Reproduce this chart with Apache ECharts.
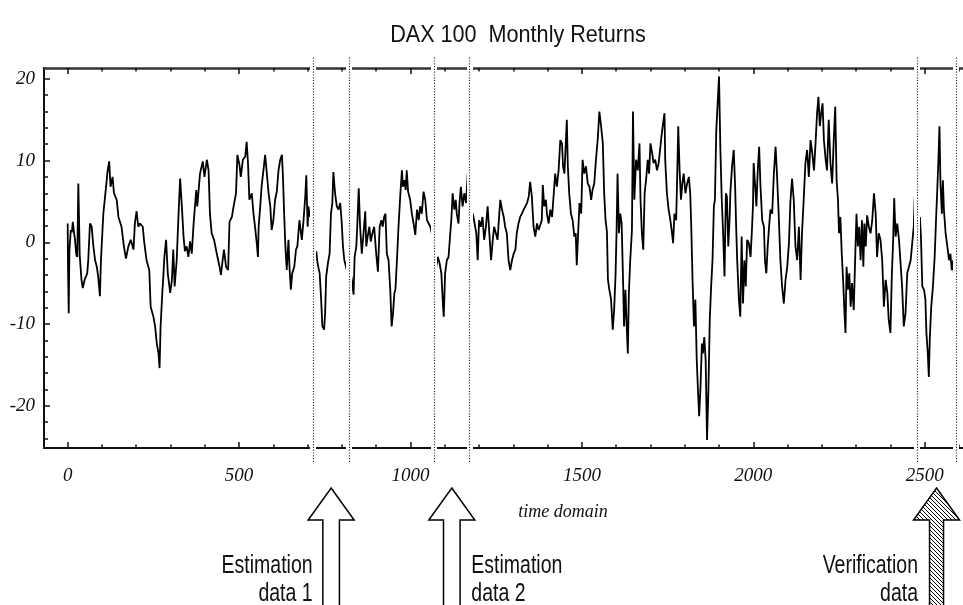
<!DOCTYPE html>
<html><head><meta charset="utf-8">
<script src="https://cdn.jsdelivr.net/npm/echarts@6/dist/echarts.min.js"></script>
<style>html,body{margin:0;padding:0;background:#fff}#c{width:963px;height:605px}</style>
</head><body><div id="c"></div>
<script>
// ---------- data ----------
const titleText = 'DAX 100  Monthly Returns';
const xAxisName = 'time domain';
const xTicks = [0, 500, 1000, 1500, 2000, 2500];
const xMinorTicks = [0,100,200,300,400,500,600,700,800,900,1000,1100,1200,1300,1400,1500,1600,1700,1800,1900,2000,2100,2200,2300,2400,2500,2600];
const yTicks = [-20, -10, 0, 10, 20];
const yMinorTicks = [-24,-22,-20,-18,-16,-14,-12,-10,-8,-6,-4,-2,0,2,4,6,8,10,12,14,16,18,20];
const boundaries = [716, 821, 1069, 1172, 2478, 2591];
const arrowLabels = [['Estimation','data 1'], ['Estimation','data 2'], ['Verification','data']];

const seg1 = [[0,2.3],[1,-3.2],[3,-8.7],[5,-1.1],[9,1.5],[12,1.2],[15,2.5],[19,1.0],[21,0.5],[25,-1.5],[28,-1.8],[31,7.2],[33,3.1],[35,-1.5],[40,-4.5],[44,-5.6],[50,-4.5],[57,-3.8],[60,-2.2],[65,2.3],[70,1.9],[75,-0.5],[80,-2.2],[85,-3.0],[89,-4.2],[94,-6.6],[97,-2.2],[104,3.5],[112,6.8],[116,8.6],[121,9.9],[125,6.8],[131,8.0],[135,6.0],[143,5.2],[148,3.1],[157,1.9],[164,-0.5],[170,-2.0],[177,-0.5],[184,0.3],[192,-0.9],[196,2.3],[201,3.8],[206,1.9],[211,2.3],[219,1.9],[223,0.1],[230,-2.2],[238,-3.4],[242,-7.9],[250,-9.1],[255,-10.3],[260,-12.4],[265,-13.6],[268,-15.4],[271,-10.3],[276,-6.2],[279,-4.2],[282,-1.8],[287,0.3],[292,-3.8],[299,-6.2],[304,-4.6],[308,-0.9],[312,-5.4],[318,-2.2],[323,3.1],[328,7.8],[333,4.4],[338,0.7],[342,-1.1],[347,-0.5],[352,-1.8],[357,0.1],[362,-1.4],[367,2.1],[375,6.4],[378,4.4],[386,8.4],[394,9.9],[399,8.0],[406,10.1],[411,8.8],[415,3.5],[420,1.1],[427,0.3],[435,-1.4],[443,-3.0],[447,-4.0],[452,-2.2],[456,-0.9],[462,-3.0],[468,-3.4],[472,2.5],[479,3.1],[484,4.4],[491,6.0],[495,10.7],[501,9.5],[505,8.0],[511,10.1],[518,10.5],[522,12.3],[526,9.7],[530,5.2],[537,6.0],[542,3.5],[547,1.7],[552,-0.3],[555,-1.8],[557,1.9],[561,4.0],[566,7.0],[571,8.8],[576,10.7],[581,8.4],[586,6.0],[591,4.4],[595,1.5],[600,2.7],[605,5.2],[610,6.2],[615,8.8],[620,10.1],[625,10.7],[628,8.0],[631,4.0],[635,-0.5],[639,-3.4],[644,0.3],[647,-3.0],[651,-5.8],[655,-3.8],[661,-3.0],[666,-0.9],[670,-0.5],[676,2.7],[683,0.3],[688,2.7],[693,5.6],[696,8.2],[700,1.9],[702,4.4],[707,3.1],[712,4.0]];
const seg2 = [[725,-1.1],[729,-2.6],[735,-3.8],[739,-6.7],[743,-10.3],[748,-10.7],[751,-8.7],[754,-4.2],[759,-2.6],[764,-1.4],[768,3.5],[772,4.8],[775,8.6],[780,6.0],[785,4.4],[790,4.0],[795,4.8],[799,2.7],[803,-0.5],[807,-2.2],[812,-3.0],[816,-3.8]];
const seg3 = [[824,-3.4],[829,-4.6],[834,-6.4],[837,-1.8],[842,-0.5],[845,2.3],[849,6.6],[853,1.9],[858,-1.4],[863,1.1],[868,3.8],[871,-0.5],[875,0.7],[880,1.9],[884,0.1],[889,1.1],[894,1.9],[900,-1.4],[905,-3.6],[910,1.9],[915,2.7],[919,1.9],[923,3.1],[927,3.5],[931,-1.4],[936,-2.2],[941,-5.8],[945,-10.3],[949,-8.7],[953,-6.2],[956,-5.8],[960,-2.6],[965,1.9],[970,5.6],[975,8.8],[978,6.8],[982,7.6],[986,6.4],[989,8.8],[993,6.2],[999,5.2],[1004,3.5],[1009,2.3],[1014,0.9],[1019,4.0],[1024,2.7],[1028,4.4],[1033,3.5],[1038,6.2],[1043,5.2],[1048,2.7],[1053,2.3],[1058,1.9],[1062,1.1],[1065,1.9]];
const seg4 = [[1075,-3.0],[1080,-1.8],[1085,-2.6],[1090,-3.8],[1095,-7.9],[1097,-9.1],[1101,-3.8],[1106,-2.2],[1111,-1.8],[1116,1.1],[1119,2.7],[1123,6.0],[1128,4.0],[1132,5.2],[1135,3.5],[1140,2.3],[1143,4.8],[1147,6.8],[1152,4.4],[1157,6.0],[1162,4.8],[1167,8.4]];
const seg5 = [[1177,1.9],[1182,3.5],[1187,2.3],[1192,1.1],[1196,-2.2],[1200,2.7],[1205,1.9],[1210,3.1],[1215,0.3],[1220,1.9],[1225,4.4],[1230,1.1],[1235,-2.2],[1240,0.3],[1244,1.9],[1249,1.1],[1254,0.3],[1259,3.5],[1262,5.2],[1267,4.0],[1272,3.1],[1276,1.9],[1281,1.1],[1286,-2.2],[1291,-3.4],[1296,-2.2],[1301,-1.4],[1306,-0.9],[1310,1.1],[1315,2.3],[1320,3.1],[1325,3.5],[1330,4.0],[1335,4.0],[1340,4.8],[1345,5.6],[1349,7.4],[1354,5.6],[1359,1.9],[1364,0.7],[1369,2.3],[1374,1.5],[1379,1.3],[1383,2.7],[1386,7.0],[1390,4.4],[1395,5.2],[1398,3.5],[1403,2.3],[1408,4.0],[1413,3.1],[1418,6.0],[1422,8.4],[1427,6.8],[1432,8.8],[1437,12.5],[1442,12.1],[1445,9.3],[1449,8.4],[1453,12.1],[1456,15.0],[1459,9.3],[1463,6.0],[1468,3.5],[1473,2.7],[1478,0.7],[1482,1.1],[1485,-2.8],[1489,1.1],[1493,4.8],[1498,3.5],[1502,10.1],[1507,8.4],[1512,9.3],[1517,7.2],[1522,6.8],[1527,5.2],[1531,6.4],[1536,7.2],[1541,10.1],[1546,12.5],[1551,16.0],[1556,14.2],[1561,12.1],[1565,6.0],[1569,2.7],[1573,1.3],[1576,-4.6],[1580,-5.8],[1585,-7.0],[1590,-10.7],[1594,-8.3],[1598,-4.2],[1601,1.1],[1604,8.4],[1608,1.1],[1612,3.5],[1616,2.3],[1620,-4.6],[1623,-10.3],[1627,-5.8],[1630,-9.5],[1634,-13.6],[1637,-6.2],[1641,-2.2],[1646,1.5],[1649,16.0],[1653,5.2],[1658,10.1],[1663,8.8],[1668,12.1],[1671,5.2],[1675,1.1],[1679,-0.9],[1683,6.0],[1688,8.0],[1692,10.1],[1696,8.4],[1700,12.1],[1705,10.9],[1709,9.7],[1714,10.1],[1719,8.8],[1724,9.7],[1729,11.7],[1733,13.3],[1737,14.6],[1741,15.8],[1743,10.1],[1748,6.0],[1753,4.0],[1758,2.7],[1763,1.1],[1766,-0.1],[1770,3.5],[1775,2.7],[1779,10.1],[1781,14.2],[1785,8.8],[1789,5.2],[1793,7.2],[1797,8.4],[1802,6.0],[1807,7.2],[1812,8.0],[1816,6.0],[1819,1.9],[1823,-5.0],[1827,-10.3],[1831,-7.0],[1835,-14.4],[1839,-18.5],[1842,-21.3],[1846,-17.7],[1850,-12.4],[1853,-13.6],[1857,-11.6],[1861,-14.4],[1865,-24.2],[1869,-18.1],[1873,-9.5],[1877,-5.4],[1881,-2.2],[1885,4.4],[1888,5.2],[1892,13.7],[1896,17.0],[1900,20.3],[1904,11.3],[1908,5.2],[1912,1.1],[1916,-4.2],[1920,6.0],[1923,5.6],[1927,-0.5],[1931,3.1],[1933,6.0],[1938,9.3],[1943,11.3],[1947,6.8],[1950,1.9],[1953,-2.2],[1958,-7.0],[1962,-9.1],[1966,0.7],[1970,-7.5],[1974,-2.2],[1978,-5.4],[1982,0.3],[1987,-0.1],[1992,-1.8],[1996,1.5],[1999,4.4],[2001,9.7],[2005,7.2],[2009,4.4],[2013,8.8],[2017,11.7],[2021,6.8],[2026,2.7],[2031,1.9],[2034,-2.2],[2038,-3.8],[2042,-0.5],[2046,1.9],[2050,4.0],[2055,3.5],[2060,8.4],[2065,11.7],[2069,8.4],[2074,3.5],[2079,-2.2],[2084,-5.4],[2089,-7.5],[2094,-4.6],[2099,-3.0],[2104,-0.1],[2108,4.8],[2113,7.8],[2118,5.2],[2123,-0.5],[2128,-2.2],[2133,1.9],[2138,-4.6],[2142,1.1],[2147,5.2],[2152,9.7],[2157,11.3],[2162,8.0],[2167,12.5],[2172,10.9],[2177,8.8],[2181,11.7],[2186,15.8],[2190,17.8],[2194,14.2],[2198,15.8],[2202,17.0],[2206,12.5],[2211,10.1],[2215,8.8],[2220,15.0],[2225,9.7],[2230,7.2],[2235,12.9],[2239,16.6],[2243,7.6],[2247,5.2],[2250,1.1],[2254,3.1],[2258,-1.4],[2262,-4.6],[2266,-8.7],[2269,-11.1],[2272,-3.0],[2276,-5.8],[2280,-3.8],[2284,-7.9],[2288,-5.0],[2293,-8.3],[2297,-2.2],[2301,3.5],[2305,-0.5],[2309,1.9],[2313,-2.2],[2317,2.7],[2321,-3.0],[2324,2.3],[2328,-0.5],[2332,3.3],[2337,1.9],[2342,1.1],[2347,2.7],[2352,6.0],[2357,3.5],[2361,-1.8],[2366,1.1],[2371,0.3],[2376,-2.2],[2381,-7.9],[2386,-4.6],[2391,-6.2],[2395,-9.5],[2400,-11.1],[2404,-4.2],[2408,0.3],[2411,5.4],[2415,0.7],[2420,2.3],[2425,0.3],[2429,-2.2],[2434,-5.4],[2439,-10.3],[2444,-8.7],[2449,-3.8],[2454,-3.0],[2459,-2.2],[2464,-2.2],[2468,1.9],[2471,5.6]];
const seg6 = [[2486,3.1],[2489,0.7],[2493,-5.4],[2498,-5.8],[2502,-7.0],[2505,-11.1],[2509,-13.6],[2512,-16.5],[2515,-11.6],[2519,-7.9],[2524,-5.4],[2529,-1.8],[2533,2.7],[2537,6.8],[2540,10.1],[2543,14.2],[2546,7.2],[2550,3.5],[2553,7.6],[2556,4.0],[2561,1.1],[2566,-0.5],[2571,-2.2],[2575,-1.4],[2579,-3.4],[2583,-2.2],[2585,-3.8]];
const segments = [seg1, seg2, seg3, seg4, seg5, seg6];

// ---------- style ----------
const SERIF = '"Liberation Serif","DejaVu Serif",serif';
const SANS = '"Liberation Sans",Arial,sans-serif';
const XMIN = -69.1, XMAX = 2611.7, YMIN = -25.18, YMAX = 21.33;
const INK = '#111';
const plain = function (v) { return String(v); };

function xAxisDef(position, ticks, len, lineShow, lineW, labelShow) {
  return {
    type: 'value', gridIndex: 0, position: position, min: XMIN, max: XMAX,
    axisLine: { show: lineShow, onZero: false, lineStyle: { color: position === 'top' ? '#333' : INK, width: lineW } },
    axisTick: { show: true, inside: true, length: len, customValues: ticks, lineStyle: { color: INK, width: 1.5 } },
    axisLabel: { show: labelShow, customValues: ticks, formatter: plain, margin: 18, fontFamily: SERIF, fontStyle: 'italic', fontSize: 19, color: INK },
    splitLine: { show: false }
  };
}
function yAxisDef(ticks, len, lineShow, labelShow) {
  return {
    type: 'value', gridIndex: 0, position: 'left', min: YMIN, max: YMAX,
    axisLine: { show: lineShow, onZero: false, lineStyle: { color: INK, width: 2 } },
    axisTick: { show: true, inside: true, length: len, customValues: ticks, lineStyle: { color: INK, width: 1.5 } },
    axisLabel: { show: labelShow, customValues: ticks, formatter: plain, margin: 9, fontFamily: SERIF, fontStyle: 'italic', fontSize: 19, color: INK },
    splitLine: { show: false }
  };
}

const chart = echarts.init(document.getElementById('c'), null, { renderer: 'canvas' });

const series = segments.map(function (s) {
  return { type: 'line', xAxisIndex: 0, yAxisIndex: 0, data: s, symbol: 'none', showSymbol: false,
    lineStyle: { color: '#000', width: 1.8 }, silent: true, animation: false, z: 2 };
});
series.push({ type: 'line', xAxisIndex: 4, yAxisIndex: 2, data: [], z: 10, animation: false,
  markLine: { silent: true, symbol: ['none', 'none'], label: { show: false }, animation: false,
    lineStyle: { color: '#fff', width: 6, type: 'solid' },
    data: boundaries.map(function (b) { return { xAxis: b }; }) } });
series.push({ type: 'line', xAxisIndex: 4, yAxisIndex: 2, data: [], z: 11, animation: false,
  markLine: { silent: true, symbol: ['none', 'none'], label: { show: false }, animation: false,
    lineStyle: { color: '#333', width: 1.2, type: [1.2, 1.6] },
    data: boundaries.map(function (b) { return { xAxis: b }; }) } });

chart.setOption({
  backgroundColor: '#fff',
  animation: false,
  grid: [
    { left: 44, right: 0, top: 68, height: 380, containLabel: false },
    { left: 44, right: 0, top: 56, height: 406, containLabel: false }
  ],
  xAxis: [
    xAxisDef('bottom', xTicks, 6, true, 2, true),
    xAxisDef('bottom', xMinorTicks, 3.5, false, 2, false),
    xAxisDef('top', xTicks, 6, true, 2.5, false),
    xAxisDef('top', xMinorTicks, 3.5, false, 2.5, false),
    { type: 'value', gridIndex: 1, min: XMIN, max: XMAX, show: false }
  ],
  yAxis: [
    yAxisDef(yTicks, 6, true, true),
    yAxisDef(yMinorTicks, 4, false, false),
    { type: 'value', gridIndex: 1, min: 0, max: 1, show: false }
  ],
  series: series
});

// hatched pattern for the verification arrow
const pc = document.createElement('canvas');
pc.width = 4; pc.height = 4;
const g = pc.getContext('2d');
g.fillStyle = '#fff'; g.fillRect(0, 0, 4, 4);
g.strokeStyle = '#000'; g.lineWidth = 1;
g.beginPath();
g.moveTo(-1, -1); g.lineTo(5, 5);
g.moveTo(-1, 3); g.lineTo(1, 5);
g.moveTo(3, -1); g.lineTo(5, 1);
g.stroke();

// condensed text: regular sans squeezed horizontally
function narrowText(text, x, y, size, sx, align) {
  return { type: 'text', z: 60, x: x, y: y, scaleX: sx, scaleY: 1,
    style: { text: text, x: 0, y: 0, align: align, verticalAlign: 'middle', font: size + 'px ' + SANS, fill: '#111' } };
}

const graphics = [];
graphics.push(narrowText(titleText, 518, 35, 24, 0.9, 'center'));
graphics.push({ type: 'text', z: 50, style: { text: xAxisName, x: 563, y: 512, align: 'center', verticalAlign: 'middle',
  font: 'italic 18px ' + SERIF, fill: '#111' } });

const pairs = [[0, 1], [2, 3], [4, 5]];
pairs.forEach(function (p, i) {
  const cx = chart.convertToPixel({ xAxisIndex: 0 }, (boundaries[p[0]] + boundaries[p[1]]) / 2);
  const hw = 23, sw = i === 2 ? 7 : 8.3, tip = 488, base = 520, bottom = 620;
  graphics.push({ type: 'polygon', z: 60,
    shape: { points: [[cx, tip], [cx + hw, base], [cx + sw, base], [cx + sw, bottom], [cx - sw, bottom], [cx - sw, base], [cx - hw, base]] },
    style: { fill: i === 2 ? { type: 'pattern', image: pc, repeat: 'repeat' } : '#fff', stroke: '#000', lineWidth: 1.5 } });
  const right = i !== 1;
  const tx = right ? cx - 18.5 : cx + 19.5;
  arrowLabels[i].forEach(function (t, j) {
    graphics.push(narrowText(t, tx, j === 0 ? 566.5 : 594.5, 25, 0.78, right ? 'right' : 'left'));
  });
});
chart.setOption({ graphic: graphics });
</script>
</body></html>
